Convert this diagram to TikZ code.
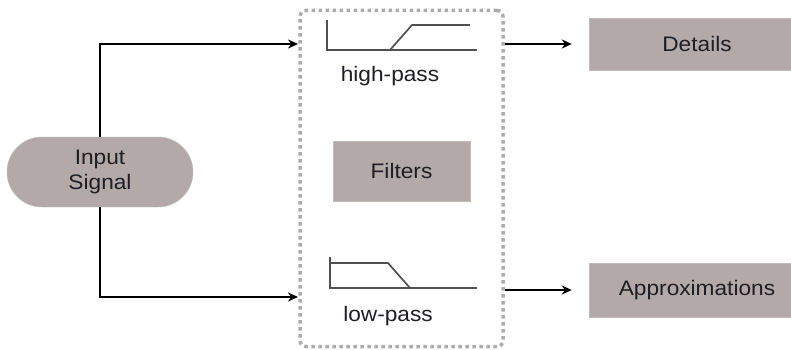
\documentclass[tikz,border=0pt]{standalone}
\usepackage{fontspec}
\setmainfont{Liberation Sans}[FakeStretch=1.08]
\usetikzlibrary{positioning,shapes.misc,arrows.meta}

\definecolor{boxgray}{RGB}{179,169,168}
\definecolor{txtgray}{RGB}{30,30,36}
\definecolor{icongray}{RGB}{80,80,80}

\begin{document}
\begin{tikzpicture}
    [x=1pt, y=-1pt,
     every node/.style={font=\fontsize{21}{25}\selectfont, text=txtgray, align=center},
     block/.style={fill=boxgray, draw=boxgray!80, inner sep=0pt},
     pill/.style={block, rounded rectangle, minimum width=186pt, minimum height=70pt},
     arr/.style={draw=black, line width=2.2pt, -{Stealth[length=10pt, width=9pt]}},
     icon/.style={draw=icongray, line width=1.7pt},
     bankbox/.style={draw=gray!65, line width=3.5pt, dash pattern=on 3.5pt off 3.5pt,
                     rounded corners=6pt, minimum width=203pt, minimum height=336pt},
    ]
    \useasboundingbox (0,0) rectangle (791,350);

    \node (input) [pill] at (100,172) {Input\\Signal};

    % filter bank
    \node (bank) [bankbox] at (401.5,178.5) {};
    \node (filters) [block, minimum width=137pt, minimum height=60pt] at (401.5,171) {Filters};

    % high-pass response
    \draw [icon] (327,20) -- (327,50) -- (477,50);
    \draw [icon] (390,50) -- (412,25) -- (470,25);
    \node (hplabel) at (390,76) {high-pass};

    % low-pass response
    \draw [icon] (330,257) -- (330,288) -- (477,288);
    \draw [icon] (330,263) -- (388,263) -- (410,288);
    \node (lplabel) at (388,316) {low-pass};

    % outputs
    \node (details) [block, minimum width=216pt, minimum height=52pt] at (697,44) {Details};
    \node (approx) [block, minimum width=216pt, minimum height=54pt] at (697,290) {Approximations};

    \coordinate (hpin) at (298,44);
    \coordinate (lpin) at (298,297);
    \coordinate (hpout) at (505,44);
    \coordinate (lpout) at (505,290);

    \draw [arr] (input.north) |- (hpin);
    \draw [arr] (input.south) |- (lpin);
    \draw [arr, shorten >=17pt] (hpout) -- (details.west);
    \draw [arr, shorten >=17pt] (lpout) -- (approx.west);

\end{tikzpicture}
\end{document}
